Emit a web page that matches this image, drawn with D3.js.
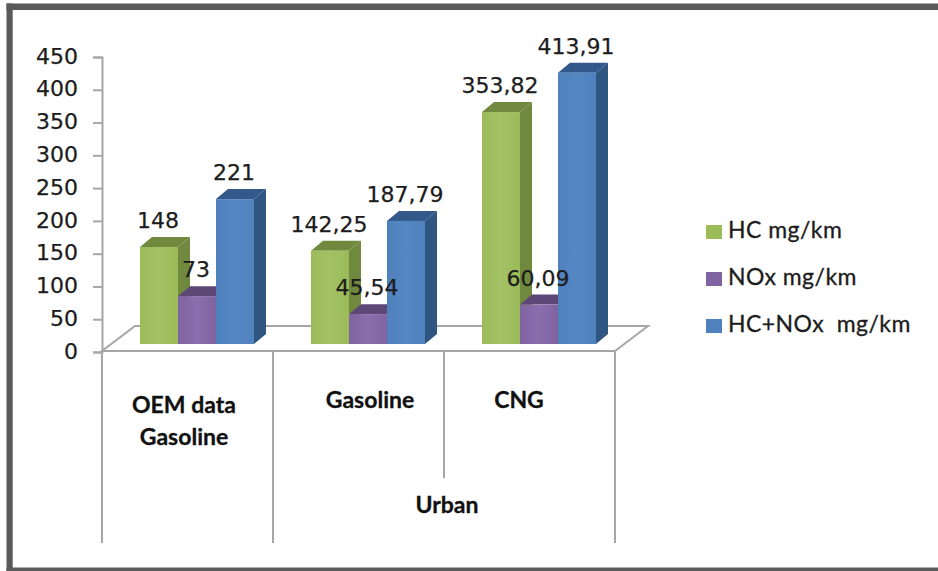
<!DOCTYPE html>
<html>
<head>
<meta charset="utf-8">
<script src="https://cdn.jsdelivr.net/npm/d3@7/dist/d3.min.js"></script>
<style>
html,body{margin:0;padding:0;background:#fff}
svg{display:block}
</style>
</head>
<body>
<svg id="chart" width="938" height="571"></svg>
<script>
const categories = ["OEM data Gasoline", "Gasoline", "CNG"];
const seriesNames = ["HC mg/km", "NOx mg/km", "HC+NOx  mg/km"];
const hcValues = [148, 142.25, 353.82];
const noxValues = [73, 45.54, 60.09];
const totalValues = [221, 187.79, 413.91];
const valueLabels = [["148", "73", "221"], ["142,25", "45,54", "187,79"], ["353,82", "60,09", "413,91"]];
const tickValues = [0, 50, 100, 150, 200, 250, 300, 350, 400, 450];

const faces = [
  { front: "#9bbb59", frontLight: "#a4c265", side: "#71893f", top: "#71893f" },
  { front: "#8064a2", frontLight: "#8a6dac", side: "#5c4776", top: "#5c4776" },
  { front: "#4f81bd", frontLight: "#5487c3", side: "#2f5581", top: "#32598a" }
];
const gridColor = "#a6a6a6";
const ink = "#1c1c1c";
const frameColor = "#5a5a5a";
const numberFont = "'DejaVu Sans', sans-serif";
const textFont = "Lato, sans-serif";

const svg = d3.select("#chart");
const defs = svg.append("defs");

// Soft horizontal shading across each bar's front face
faces.forEach((f, i) => {
  const g = defs.append("linearGradient").attr("id", "front" + i);
  g.append("stop").attr("offset", "0%").attr("stop-color", f.front);
  g.append("stop").attr("offset", "50%").attr("stop-color", f.frontLight);
  g.append("stop").attr("offset", "100%").attr("stop-color", f.front);
});

// Scales
const y = d3.scaleLinear().domain([0, 450]).range([352, 57]);
const floorLeft = 102, floorRight = 615;
const x0 = d3.scaleBand().domain(categories).range([floorLeft, floorRight]);
const x1 = d3.scaleBand().domain(seriesNames).range([38, 152]);

// Projection offsets of the oblique view
const depthX = 12, depthY = 10, barLift = 8;
const floorDepthX = 33, floorDepthY = 26;

// Frame: top, left and bottom edges only, open on the right
const frame = svg.append("g").attr("fill", frameColor);
frame.append("rect").attr("x", 6.5).attr("y", 3.5).attr("width", 931.5).attr("height", 6.5);
frame.append("rect").attr("x", 6.5).attr("y", 3.5).attr("width", 6.2).attr("height", 567.5);
frame.append("rect").attr("x", 6.5).attr("y", 567.5).attr("width", 931.5).attr("height", 3.5);

// Floor of the plot
const floorY = y(0);
svg.append("path")
  .attr("d", d3.line()([
    [floorLeft, floorY - 1], [floorRight, floorY - 1],
    [floorRight + floorDepthX, floorY - floorDepthY],
    [floorLeft + floorDepthX, floorY - floorDepthY]
  ]) + "Z")
  .attr("fill", "#fff").attr("stroke", gridColor).attr("stroke-width", 2);

// Value axis
const axis = d3.axisLeft(y).tickValues(tickValues).tickSize(9).tickPadding(15);
const axisG = svg.append("g").attr("transform", `translate(${floorLeft},0)`).call(axis);
axisG.selectAll("path,line").attr("stroke", gridColor).attr("stroke-width", 2);
axisG.selectAll("text")
  .attr("font-family", numberFont).attr("font-size", 22).attr("fill", ink)
  .attr("stroke", ink).attr("stroke-width", 0.25)
  .attr("dy", "0.28em");

// Category separators below the floor
const separators = [
  { x: floorLeft, bottom: 543 },
  { x: x0(categories[1]), bottom: 543 },
  { x: x0(categories[2]), bottom: 478 },
  { x: floorRight, bottom: 543 }
];
svg.append("g").selectAll("line").data(separators).join("line")
  .attr("x1", d => d.x).attr("x2", d => d.x)
  .attr("y1", floorY).attr("y2", d => d.bottom)
  .attr("stroke", gridColor).attr("stroke-width", 2);

// 3D bars
const seriesValues = [hcValues, noxValues, totalValues];
const base = floorY - barLift;
const barW = x1.bandwidth();
const barTop = v => base - (y(0) - y(v));
categories.forEach((cat, c) => {
  const group = svg.append("g").attr("transform", `translate(${x0(cat)},0)`);
  seriesNames.forEach((name, s) => {
    const left = x1(name), right = left + barW;
    const top = barTop(seriesValues[s][c]);
    group.append("path")
      .attr("d", d3.line()([[right, top], [right + depthX, top - depthY], [right + depthX, base - depthY], [right, base]]) + "Z")
      .attr("fill", faces[s].side);
    group.append("path")
      .attr("d", d3.line()([[left, top], [left + depthX, top - depthY], [right + depthX, top - depthY], [right, top]]) + "Z")
      .attr("fill", faces[s].top);
    group.append("rect")
      .attr("x", left).attr("y", top).attr("width", barW).attr("height", base - top)
      .attr("fill", `url(#front${s})`);
  });
});

// Value labels above each bar
categories.forEach((cat, c) => {
  seriesNames.forEach((name, s) => {
    svg.append("text")
      .attr("x", x0(cat) + x1(name) + barW / 2 - 1)
      .attr("y", barTop(seriesValues[s][c]) - depthY - 9)
      .attr("text-anchor", "middle")
      .attr("font-family", numberFont).attr("font-size", 22).attr("fill", ink)
      .attr("stroke", ink).attr("stroke-width", 0.25)
      .text(valueLabels[c][s]);
  });
});

// Category captions
const captionFor = (lines, cx, firstY) => {
  const t = svg.append("text").attr("text-anchor", "middle")
    .attr("font-family", textFont).attr("font-weight", 700)
    .attr("font-size", 23).attr("fill", "#111")
    .attr("stroke", "#111").attr("stroke-width", 0.3);
  lines.forEach((l, i) => t.append("tspan").attr("x", cx).attr("y", firstY + i * 32).text(l));
};
captionFor(["OEM data", "Gasoline"], 184, 413);
captionFor(["Gasoline"], 370, 408);
captionFor(["CNG"], 519, 408);
captionFor(["Urban"], 447, 513);

// Legend
const legendY = d3.scalePoint().domain(seriesNames).range([231, 325]);
const legend = svg.append("g");
seriesNames.forEach((name, s) => {
  legend.append("rect")
    .attr("x", 706).attr("y", legendY(name) - 6).attr("width", 16).attr("height", 14)
    .attr("fill", faces[s].front);
  legend.append("text")
    .attr("x", 728).attr("y", legendY(name) + 7)
    .style("white-space", "pre")
    .attr("font-family", textFont).attr("font-size", 23).attr("letter-spacing", 0.45)
    .attr("fill", ink).attr("stroke", ink).attr("stroke-width", 0.3)
    .text(name);
});
</script>
</body>
</html>
